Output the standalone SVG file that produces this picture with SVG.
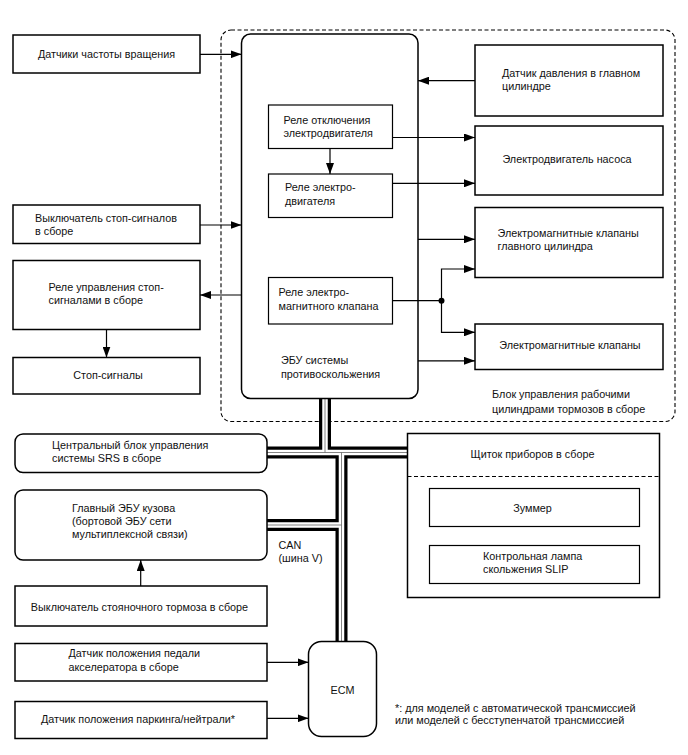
<svg xmlns="http://www.w3.org/2000/svg" width="688" height="755" viewBox="0 0 688 755">
<defs>
<marker id="ah" markerUnits="userSpaceOnUse" markerWidth="11" markerHeight="8" refX="11" refY="4" orient="auto">
<path d="M0,0 L11,4 L0,8 z" fill="#000"/>
</marker>
<style>
.box{fill:#fff;stroke:#000;stroke-width:1.5}
.ibox{fill:#fff;stroke:#000;stroke-width:1.2}
.dash{fill:none;stroke:#000;stroke-width:1.1;stroke-dasharray:4,2.5}
.ln{fill:none;stroke:#000;stroke-width:1.2}
.arr{fill:none;stroke:#000;stroke-width:1.2;marker-end:url(#ah)}
.t{font-family:"Liberation Sans",Arial,sans-serif;font-size:10.8px;fill:#111}
.c{text-anchor:middle}
.busB{fill:none;stroke:#000;stroke-width:12}
.busW{fill:none;stroke:#fff;stroke-width:5.5}
.busC{fill:none;stroke:#666;stroke-width:0.8}
</style>
</defs>
<rect width="688" height="755" fill="#fff"/>

<g id="brake-actuator-boundary">
<rect class="dash" x="221" y="30" width="454" height="391.5" rx="10"/>
<text class="t" x="492" y="398">Блок управления рабочими</text>
<text class="t" x="492" y="412.5">цилиндрами тормозов в сборе</text>
</g>

<g id="can-bus">
<path class="busB" d="M325,398 V452.5 M267,452.5 H408 M341.5,452.5 V642 M267,525 H341.5"/>
<path class="busW" d="M325,398 V452.5 M267,452.5 H408 M341.5,452.5 V642 M267,525 H341.5"/>
<path class="busC" d="M325,398 V452.5 M267,452.5 H408 M341.5,452.5 V642 M267,525 H341.5"/>
</g>

<g id="abs-ecu">
<rect class="box" x="241.5" y="34" width="176.5" height="364.5" rx="9"/>
<text class="t" x="281" y="363.7">ЭБУ системы</text>
<text class="t" x="281" y="377.5">противоскольжения</text>
</g>

<g id="speed-sensors">
<rect class="box" x="13" y="35" width="187" height="38"/>
<text class="t c" x="106.5" y="57.7">Датчики частоты вращения</text>
</g>

<g id="master-pressure-sensor">
<rect class="box" x="475" y="45" width="188" height="71"/>
<text class="t" x="502" y="76.7">Датчик давления в главном</text>
<text class="t" x="502" y="89.5">цилиндре</text>
</g>

<g id="motor-cut-relay">
<rect class="ibox" x="268.5" y="105" width="124" height="43.5"/>
<text class="t" x="283.5" y="123.7">Реле отключения</text>
<text class="t" x="283.5" y="136.5">электродвигателя</text>
</g>

<g id="motor-relay">
<rect class="ibox" x="268.5" y="174" width="124" height="43.5"/>
<text class="t" x="285" y="190.5">Реле электро-</text>
<text class="t" x="285" y="204.5">двигателя</text>
</g>

<g id="solenoid-relay">
<rect class="ibox" x="268.5" y="277.5" width="124" height="46.5"/>
<text class="t" x="278.5" y="296.4">Реле электро-</text>
<text class="t" x="278.5" y="310">магнитного клапана</text>
</g>

<g id="pump-motor">
<rect class="box" x="475" y="126" width="188" height="69"/>
<text class="t c" x="567" y="163">Электродвигатель насоса</text>
</g>

<g id="master-solenoids">
<rect class="box" x="475" y="207.5" width="188" height="70"/>
<text class="t" x="497.5" y="237">Электромагнитные клапаны</text>
<text class="t" x="497.5" y="249.5">главного цилиндра</text>
</g>

<g id="solenoids">
<rect class="box" x="475" y="324" width="188" height="45.5"/>
<text class="t c" x="570" y="349.4">Электромагнитные клапаны</text>
</g>

<g id="stop-switch">
<rect class="box" x="13" y="205" width="187" height="38.5"/>
<text class="t" x="35" y="222">Выключатель стоп-сигналов</text>
<text class="t" x="35" y="235.4">в сборе</text>
</g>

<g id="stop-relay">
<rect class="box" x="13" y="260.5" width="187" height="69"/>
<text class="t" x="48.5" y="291">Реле управления стоп-</text>
<text class="t" x="48.5" y="303.5">сигналами в сборе</text>
</g>

<g id="stop-lights">
<rect class="box" x="13" y="357.5" width="187" height="36.5"/>
<text class="t c" x="108" y="378.7">Стоп-сигналы</text>
</g>

<g id="srs">
<rect class="box" x="15" y="434" width="252" height="38.5" rx="8"/>
<text class="t" x="52" y="448.7">Центральный блок управления</text>
<text class="t" x="52" y="462">системы SRS в сборе</text>
</g>

<g id="body-ecu">
<rect class="box" x="15" y="490" width="252" height="70" rx="8"/>
<text class="t" x="72" y="512">Главный ЭБУ кузова</text>
<text class="t" x="72" y="525">(бортовой ЭБУ сети</text>
<text class="t" x="72" y="538">мультиплексной связи)</text>
</g>

<g id="can-label">
<text class="t" x="278.5" y="548.7">CAN</text>
<text class="t" x="278.5" y="562">(шина V)</text>
</g>

<g id="parking-switch">
<rect class="box" x="15" y="586" width="252" height="40"/>
<text class="t c" x="139.5" y="610.7">Выключатель стояночного тормоза в сборе</text>
</g>

<g id="pedal-sensor">
<rect class="box" x="15" y="643.5" width="252" height="37.5"/>
<text class="t" x="68.5" y="657">Датчик положения педали</text>
<text class="t" x="68.5" y="671">акселератора в сборе</text>
</g>

<g id="pn-sensor">
<rect class="box" x="15" y="701.5" width="252" height="37"/>
<text class="t c" x="138" y="722.7">Датчик положения паркинга/нейтрали*</text>
</g>

<g id="ecm">
<rect class="box" x="308.5" y="641.5" width="68" height="95" rx="13"/>
<text class="t c" x="342.5" y="694.4">ECM</text>
</g>

<g id="combination-meter">
<rect class="box" x="407.5" y="433.5" width="252" height="164"/>
<text class="t c" x="532.5" y="458">Щиток приборов в сборе</text>
<line class="dash" x1="407.5" y1="476.5" x2="659.5" y2="476.5"/>
<g id="buzzer">
<rect class="ibox" x="429.5" y="488.5" width="210" height="38"/>
<text class="t c" x="532.5" y="512">Зуммер</text>
</g>
<g id="slip-lamp">
<rect class="ibox" x="429.5" y="545.5" width="210" height="38"/>
<text class="t" x="483" y="560.4">Контрольная лампа</text>
<text class="t" x="483" y="573">скольжения SLIP</text>
</g>
</g>

<g id="footnote">
<text class="t" x="395" y="712">*: для моделей с автоматической трансмиссией</text>
<text class="t" x="395" y="723.7">или моделей с бесступенчатой трансмиссией</text>
</g>

<g id="connectors">
<line class="arr" x1="200" y1="54.3" x2="241.5" y2="54.3"/>
<line class="arr" x1="475" y1="80.7" x2="418" y2="80.7"/>
<line class="arr" x1="392.5" y1="137.5" x2="475" y2="137.5"/>
<line class="arr" x1="330" y1="148.5" x2="330" y2="174"/>
<line class="arr" x1="392.5" y1="183.3" x2="475" y2="183.3"/>
<line class="arr" x1="200" y1="225" x2="241.5" y2="225"/>
<line class="arr" x1="418" y1="239.3" x2="475" y2="239.3"/>
<line class="arr" x1="241.5" y1="295" x2="200" y2="295"/>
<line class="ln" x1="392.5" y1="300.7" x2="441.5" y2="300.7"/>
<path class="arr" d="M441.5,300.7 V269 H475"/>
<path class="arr" d="M441.5,300.7 V332.3 H475"/>
<circle cx="441.5" cy="300.7" r="3" fill="#000"/>
<line class="arr" x1="418" y1="360.8" x2="475" y2="360.8"/>
<line class="arr" x1="106.5" y1="329.5" x2="106.5" y2="357.5"/>
<line class="arr" x1="140.7" y1="586" x2="140.7" y2="560"/>
<line class="arr" x1="267" y1="662.3" x2="308.5" y2="662.3"/>
<line class="arr" x1="267" y1="718.3" x2="308.5" y2="718.3"/>
</g>
</svg>
